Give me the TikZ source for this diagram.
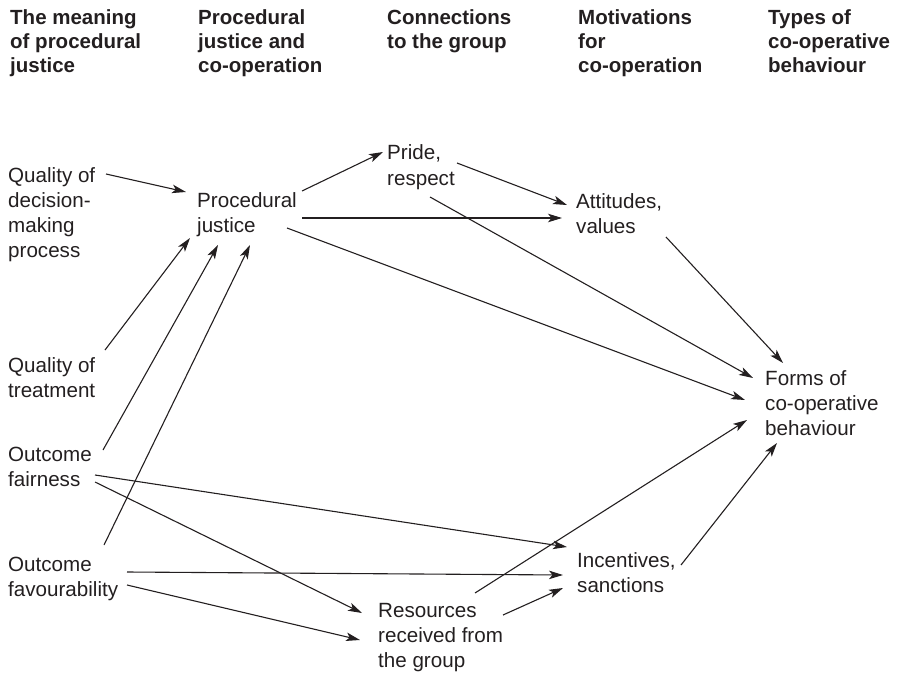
\documentclass[tikz,border=0pt]{standalone}
\usepackage{fontspec}
\setmainfont{Liberation Sans}
\usetikzlibrary{arrows.meta}
\definecolor{ink}{HTML}{231F20}
\begin{document}
% Multi-line nodes sit on the baseline of their last line (anchor=base west).
\begin{tikzpicture}[x=1pt,y=-1pt,
  lbl/.style={anchor=base west, inner sep=0pt, align=left, text=ink,
    font=\fontsize{20.6}{25}\selectfont},
  head/.style={lbl, font=\fontsize{20.5}{24}\selectfont\bfseries},
  arr/.style={draw=ink, line width=1.1pt,
    -{Stealth[length=14pt,width=8.5pt,inset=3.5pt]}}]
\useasboundingbox (0,0) rectangle (899,674);

% column headings
\node[head] (h1) at (10,73)  {The meaning\\of procedural\\justice};
\node[head] (h2) at (198,73) {Procedural\\justice and\\co-operation};
\node[head] (h3) at (387,49) {Connections\\to the group};
\node[head] (h4) at (578,73) {Motivations\\for\\co-operation};
\node[head] (h5) at (768,73) {Types of\\co-operative\\behaviour};

% concepts
\node[lbl] (q1)    at (8,257)   {Quality of\\decision-\\making\\process};
\node[lbl] (pj)    at (197,232) {Procedural\\justice};
\node[lbl] (pride) at (387,185) {Pride,\\respect};
\node[lbl] (att)   at (576,233) {Attitudes,\\values};
\node[lbl] (q2)    at (8,397)   {Quality of\\treatment};
\node[lbl] (forms) at (765,435) {Forms of\\co-operative\\behaviour};
\node[lbl] (of)    at (8,486)   {Outcome\\fairness};
\node[lbl] (ofav)  at (8,596)   {Outcome\\favourability};
\node[lbl] (inc)   at (577,592) {Incentives,\\sanctions};
\node[lbl] (res)   at (378,667) {Resources\\received from\\the group};

% links
\draw[arr] ([shift={(98,-83)}]q1.base west)   -- ([shift={(-11,-40)}]pj.base west);
\draw[arr] ([shift={(105,-41)}]pj.base west)  -- ([shift={(-4,-33)}]pride.base west);
\draw[arr] ([shift={(105,-14)}]pj.base west)  -- ([shift={(-14,-15)}]att.base west);
\draw[arr] ([shift={(90,-4)}]pj.base west)    -- ([shift={(-20,-35)}]forms.base west);
\draw[arr] ([shift={(70,-22)}]pride.base west) -- ([shift={(-9,-28)}]att.base west);
\draw[arr] ([shift={(43,12)}]pride.base west) -- ([shift={(-12,-57)}]forms.base west);
\draw[arr] ([shift={(90,4)}]att.base west)    -- ([shift={(18,-72)}]forms.base west);
\draw[arr] ([shift={(97,-47)}]q2.base west)   -- ([shift={(-7,6)}]pj.base west);
\draw[arr] ([shift={(95,-36)}]of.base west)   -- ([shift={(21,13)}]pj.base west);
\draw[arr] ([shift={(96,-51)}]ofav.base west) -- ([shift={(53,13)}]pj.base west);
\draw[arr] ([shift={(87,-11)}]of.base west)   -- ([shift={(-10,-45)}]inc.base west);
\draw[arr] ([shift={(87,-4)}]of.base west)    -- ([shift={(-16,-54)}]res.base west);
\draw[arr] ([shift={(119,-24)}]ofav.base west) -- ([shift={(-14,-17)}]inc.base west);
\draw[arr] ([shift={(119,-11)}]ofav.base west) -- ([shift={(-18,-27)}]res.base west);
\draw[arr] ([shift={(97,-74)}]res.base west)  -- ([shift={(-18,-15)}]forms.base west);
\draw[arr] ([shift={(125,-52)}]res.base west) -- ([shift={(-14,-4)}]inc.base west);
\draw[arr] ([shift={(104,-27)}]inc.base west) -- ([shift={(12,8)}]forms.base west);
\end{tikzpicture}
\end{document}
